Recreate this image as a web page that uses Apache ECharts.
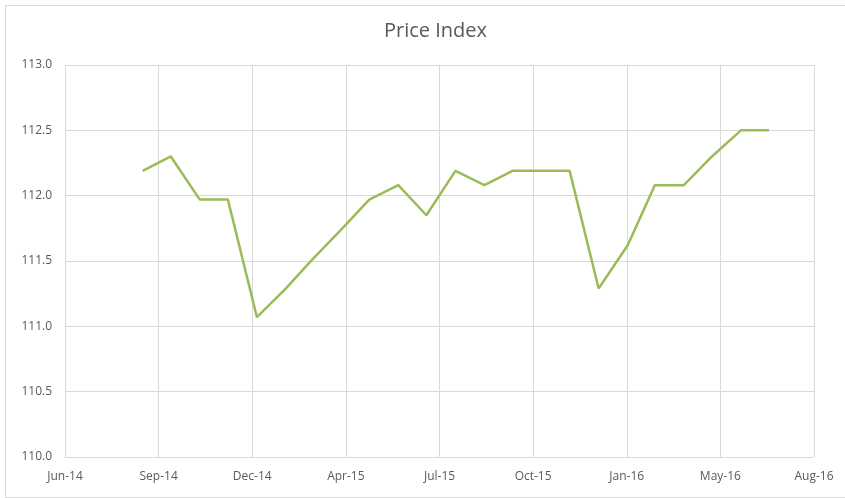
<!DOCTYPE html>
<html>
<head>
<meta charset="utf-8">
<title>Price Index</title>
<script src="https://cdn.jsdelivr.net/npm/echarts@6/dist/echarts.min.js"></script>
<style>
    html, body { margin: 0; padding: 0; background: #fff; }
    #chart-box { position: absolute; left: 5px; top: 5px; width: 845px; height: 491px; border: 1px solid #d9d9d9; }
    #chart-price { position: absolute; left: 0; top: 0; width: 845px; height: 498px; }
</style>
</head>
<body>
<div id="chart-box"></div>
<div id="chart-price"></div>
<script>
// 月度数据（每月1日）
const months = ['2014-09', '2014-10', '2014-11', '2014-12', '2015-01', '2015-02', '2015-03', '2015-04',
    '2015-05', '2015-06', '2015-07', '2015-08', '2015-09', '2015-10', '2015-11', '2015-12',
    '2016-01', '2016-02', '2016-03', '2016-04', '2016-05', '2016-06', '2016-07'];
const priceIndex = [112.19, 112.30, 111.97, 111.97, 111.07, 111.29, 111.51, 111.74,
    111.97, 112.08, 111.85, 112.19, 112.08, 112.19, 112.19, 112.19,
    111.29, 111.62, 112.08, 112.08, 112.30, 112.50, 112.50];

// x 轴：从起始日期开始按天计，每 100 天一个刻度
const axisStart = '2014-06-10';
const axisDays = 800;
const axisStep = 100;
const monthNames = ['Jan', 'Feb', 'Mar', 'Apr', 'May', 'Jun', 'Jul', 'Aug', 'Sep', 'Oct', 'Nov', 'Dec'];

const DAY = 86400000;

function toUtc(s) {
    let p = s.split('-');
    return Date.UTC(+p[0], +p[1] - 1, p[2] ? +p[2] : 1);
}

// 天数 -> "Jun-14" 这种格式
function dayLabel(d) {
    let t = new Date(toUtc(axisStart) + d * DAY);
    return monthNames[t.getUTCMonth()] + '-' + String(t.getUTCFullYear()).slice(2);
}

let seriesData = months.map(function (m, i) {
    return [(toUtc(m) - toUtc(axisStart)) / DAY, priceIndex[i]];
});

let option = {
    animation: false,
    title: {
        text: 'Price Index',
        left: 379,
        top: 16,
        textStyle: {
            fontFamily: 'Open Sans',
            fontSize: 20,
            fontWeight: 'normal',
            color: '#595959'
        }
    },
    grid: {
        left: 65,
        right: 31,
        top: 65,
        bottom: 41
    },
    xAxis: {
        type: 'value',
        min: 0,
        max: axisDays,
        interval: axisStep,
        axisLine: { show: false },
        axisTick: { show: false },
        splitLine: { show: true, lineStyle: { color: '#d9d9d9', width: 1 } },
        axisLabel: {
            margin: 14,
            fontFamily: 'Open Sans',
            fontSize: 12,
            color: '#595959',
            formatter: dayLabel
        }
    },
    yAxis: {
        type: 'value',
        min: 110,
        max: 113,
        interval: 0.5,
        axisLine: { show: false },
        axisTick: { show: false },
        splitLine: { lineStyle: { color: '#d9d9d9', width: 1 } },
        axisLabel: {
            margin: 13,
            fontFamily: 'Open Sans',
            fontSize: 12,
            color: '#595959',
            formatter: function (v) { return v.toFixed(1); }
        }
    },
    series: [
        {
            name: 'Price Index',
            type: 'line',
            data: seriesData,
            showSymbol: false,
            lineStyle: { color: '#9bbb59', width: 2.5 },
            itemStyle: { color: '#9bbb59' }
        }
    ]
};

let chartPrice = echarts.init(document.getElementById('chart-price'));
chartPrice.setOption(option);

window.onresize = function () {
    chartPrice.resize();
};
</script>
</body>
</html>
